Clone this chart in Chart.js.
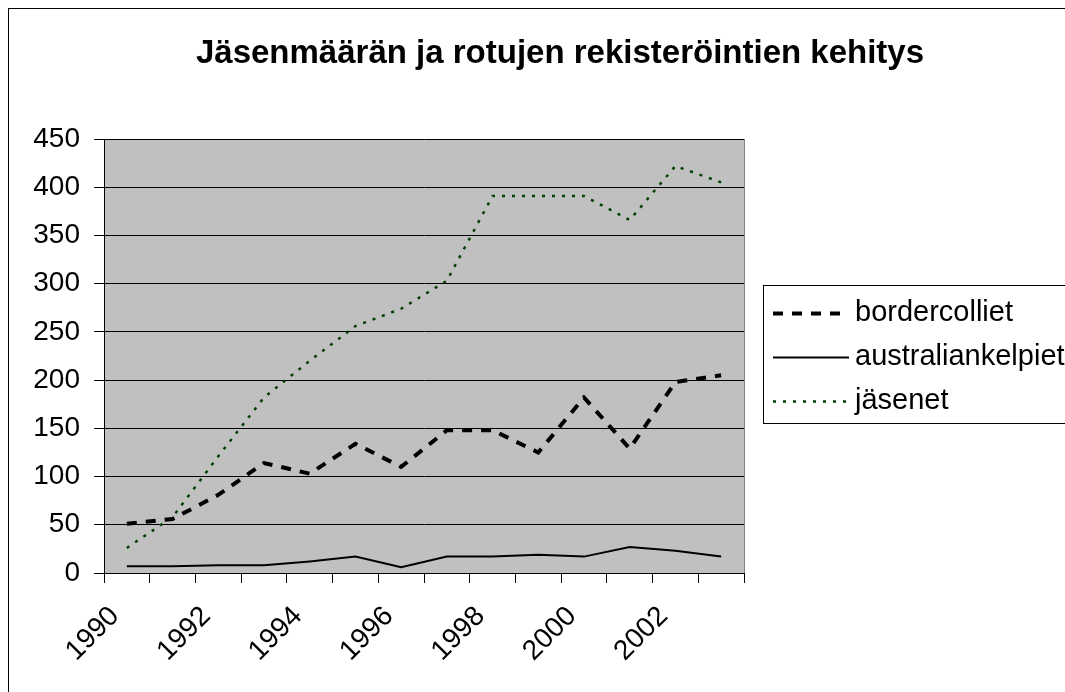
<!DOCTYPE html>
<html>
<head>
<meta charset="utf-8">
<script src="https://cdn.jsdelivr.net/npm/chart.js@4/dist/chart.umd.min.js"></script>
<style>
  body { margin: 0; background: #fff; }
  #wrap { position: relative; width: 1065px; height: 692px; }
</style>
</head>
<body>
<div id="wrap"><canvas id="chart"></canvas></div>
<script>
var title = 'Jäsenmäärän ja rotujen rekisteröintien kehitys';
var years = ['1990','1991','1992','1993','1994','1995','1996','1997','1998','1999','2000','2001','2002','2003'];
var bordercolliet = [51, 56, 81, 114, 103, 134, 110, 148, 148, 125, 182, 129, 198, 205];
var australiankelpiet = [7, 7, 8, 8, 12, 17, 6, 17, 17, 19, 17, 27, 23, 17];
var jasenet = [26, 58, 121, 182, 220, 256, 274, 303, 391, 391, 391, 366, 422, 405];
var yTicks = [0, 50, 100, 150, 200, 250, 300, 350, 400, 450];

var FONT = "'Liberation Sans', Arial, sans-serif";

// outer frame, title, grey plot area
var plotBg = {
  id: 'plotBg',
  beforeDraw: function(chart){
    var ctx = chart.ctx, a = chart.chartArea;
    ctx.save();
    ctx.strokeStyle = '#000';
    ctx.lineWidth = 1;
    ctx.strokeRect(8.5, 8.5, 1070, 700);
    ctx.fillStyle = '#000';
    ctx.font = 'bold 33px ' + FONT;
    ctx.textAlign = 'center';
    ctx.textBaseline = 'alphabetic';
    ctx.fillText(title, 560, 63);
    ctx.fillStyle = '#c0c0c0';
    ctx.fillRect(a.left, a.top, a.right - a.left, a.bottom - a.top);
    ctx.strokeStyle = '#808080';
    ctx.strokeRect(a.left + 0.5, a.top + 0.5, a.right - a.left, a.bottom - a.top);
    ctx.restore();
  }
};

// excel style legend box on the right
var boxLegend = {
  id: 'boxLegend',
  afterDraw: function(chart){
    var ctx = chart.ctx;
    var x = 763, y = 285, w = 320, h = 138;
    ctx.save();
    ctx.fillStyle = '#fff';
    ctx.fillRect(x, y, w, h);
    ctx.strokeStyle = '#000';
    ctx.lineWidth = 1;
    ctx.strokeRect(x + 0.5, y + 0.5, w, h);
    var rows = [313, 357, 401];
    chart.data.datasets.forEach(function(ds, i){
      ctx.beginPath();
      ctx.strokeStyle = ds.borderColor;
      ctx.lineWidth = ds.borderWidth;
      ctx.setLineDash(ds.borderDash || []);
      ctx.moveTo(773, rows[i] + 0.5);
      ctx.lineTo(849, rows[i] + 0.5);
      ctx.stroke();
      ctx.setLineDash([]);
      ctx.fillStyle = '#000';
      ctx.font = '29px ' + FONT;
      ctx.textBaseline = 'middle';
      ctx.fillText(ds.label, 855, rows[i]);
    });
    ctx.restore();
  }
};

new Chart(document.getElementById('chart'), {
  type: 'line',
  data: {
    labels: years,
    datasets: [{
      label: 'bordercolliet',
      data: bordercolliet,
      borderColor: '#000',
      borderWidth: 4,
      borderDash: [10, 9],
      pointRadius: 0,
      tension: 0
    }, {
      label: 'australiankelpiet',
      data: australiankelpiet,
      borderColor: '#000',
      borderWidth: 2,
      pointRadius: 0,
      tension: 0
    }, {
      label: 'jäsenet',
      data: jasenet,
      borderColor: '#004000',
      borderWidth: 2.5,
      borderDash: [3, 7],
      pointRadius: 0,
      tension: 0
    }]
  },
  options: {
    responsive: true,
    maintainAspectRatio: false,
    animation: false,
    layout: { padding: { left: 10, right: 321, top: 139, bottom: 0 } },
    plugins: {
      legend: { display: false },
      tooltip: { enabled: false }
    },
    scales: {
      x: {
        offset: true,
        grid: { offset: true, drawOnChartArea: false, color: '#000', tickLength: 10, tickColor: '#000' },
        border: { color: '#000', width: 1 },
        ticks: {
          autoSkip: false,
          maxRotation: 45,
          minRotation: 45,
          padding: 17,
          labelOffset: -12,
          color: '#000',
          font: { family: FONT, size: 28 },
          callback: function(v, i){ return i % 2 === 0 ? years[i] : ''; }
        },
        afterFit: function(s){ s.height = 119; }
      },
      y: {
        min: 0,
        max: 450,
        afterBuildTicks: function(s){ s.ticks = yTicks.map(function(v){ return { value: v }; }); },
        grid: { color: '#000', tickLength: 10, tickColor: '#000' },
        border: { color: '#000', width: 1 },
        ticks: { color: '#000', padding: 14, font: { family: FONT, size: 28 } },
        afterFit: function(s){ s.width = 94; }
      }
    }
  },
  plugins: [plotBg, boxLegend]
});
</script>
</body>
</html>
